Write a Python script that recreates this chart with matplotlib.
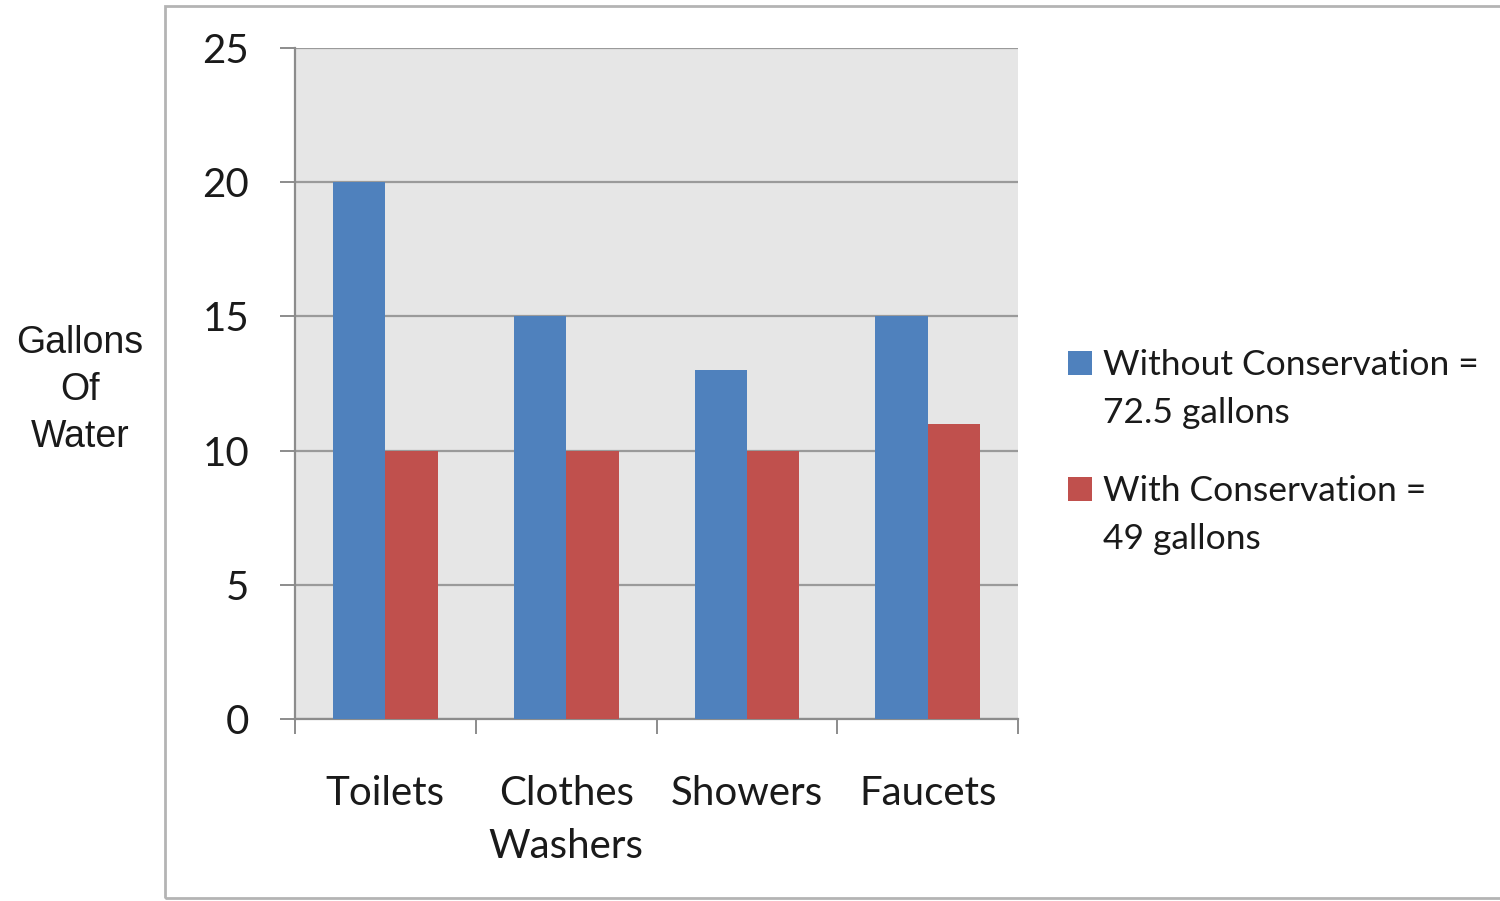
import numpy as np
from matplotlib import pyplot as plt
from matplotlib.patches import Rectangle

plt.rcParams["figure.figsize"] = [15.00, 9.01]
plt.rcParams["font.family"] = ["Lato", "DejaVu Sans"]

# data
categories = ["Toilets", "Clothes\nWashers", "Showers", "Faucets"]
without_conservation = [20, 15, 13, 15]
with_conservation = [10, 10, 10, 11]
series_labels = ["Without Conservation =\n72.5 gallons", "With Conservation =\n49 gallons"]
series_colors = ["#4F81BD", "#C0504D"]
y_ticks = [0, 5, 10, 15, 20, 25]

fig = plt.figure(facecolor="white")
ax = fig.add_axes([0.1967, 0.202, 0.482, 0.7447])
ax.set_facecolor("#E6E6E6")

# outer chart frame
fig.patches.append(Rectangle((165 / 1500, 3 / 901), 1.2, 892 / 901, transform=fig.transFigure,
                             fill=False, edgecolor="#B4B4B4", linewidth=2.0))

x = np.arange(len(categories))
w = 0.29
ax.bar(x - w / 2, without_conservation, w, color=series_colors[0], zorder=3)
ax.bar(x + w / 2, with_conservation, w, color=series_colors[1], zorder=3)

ax.set_xlim(-0.5, len(categories) - 0.5)
ax.set_ylim(0, 25)
ax.set_yticks(y_ticks)
ax.yaxis.grid(True, color="#9A9A9A", linewidth=1.6, zorder=1)
ax.set_axisbelow(True)

# category labels between boundary ticks
ax.set_xticks(np.arange(len(categories) + 1) - 0.5)
ax.set_xticklabels([])
ax.set_xticks(x, minor=True)
ax.set_xticklabels(categories, minor=True, fontsize=29, color="#1A1A1A", linespacing=1.55)
ax.tick_params(axis="x", which="minor", length=0, pad=40)
ax.tick_params(axis="x", which="major", length=11, width=1.4, color="#8C8C8C", direction="out")
ax.tick_params(axis="y", length=11, width=1.4, color="#8C8C8C", labelsize=29,
               labelcolor="#1A1A1A", pad=22)

for side in ["top", "right"]:
    ax.spines[side].set_visible(False)
for side in ["left", "bottom"]:
    ax.spines[side].set_color("#8C8C8C")
    ax.spines[side].set_linewidth(1.6)

fig.text(80 / 1500, 1 - 390 / 901, "Gallons\nOf\nWater", ha="center", va="center",
         multialignment="center", fontsize=27, family="Liberation Sans", linespacing=1.38,
         color="#1A1A1A")

# legend, handles aligned to the first line of each label
for i, (lab, col) in enumerate(zip(series_labels, series_colors)):
    yc = 1 - (363 + 126 * i) / 901
    fig.patches.append(Rectangle((1068 / 1500, yc - 12 / 901), 24 / 1500, 24 / 901,
                                 transform=fig.transFigure, facecolor=col, edgecolor="none"))
    fig.text(1103 / 1500, yc + 14 / 901, lab, ha="left", va="top", fontsize=25.5,
             linespacing=1.62, color="#1A1A1A")

fig.savefig("out.png", dpi=100, facecolor="white")
